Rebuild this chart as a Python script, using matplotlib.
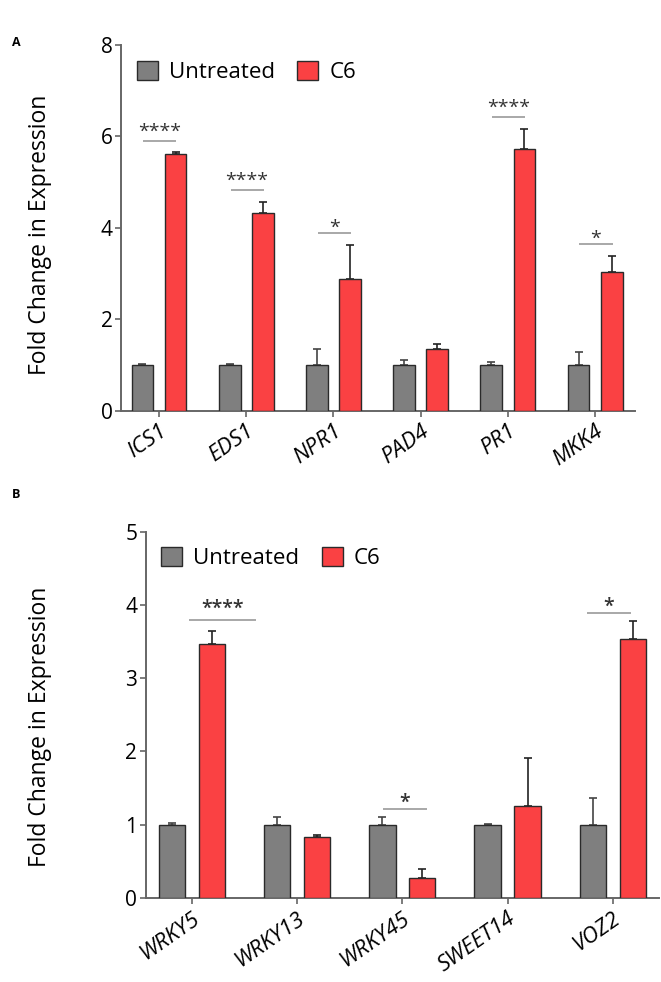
import matplotlib
matplotlib.use("Agg")
import matplotlib.pyplot as plt
import numpy as np
from matplotlib.patches import Patch

plt.rcParams['font.family'] = ['Open Sans', 'DejaVu Sans']

# ---------------- data ----------------
genes_A = ['ICS1', 'EDS1', 'NPR1', 'PAD4', 'PR1', 'MKK4']
untreated_A = [1.0, 1.0, 1.0, 1.0, 1.0, 1.0]
untreated_A_err = [0.035, 0.02, 0.35, 0.12, 0.08, 0.29]
c6_A = [5.62, 4.32, 2.89, 1.36, 5.73, 3.03]
c6_A_err = [0.03, 0.24, 0.74, 0.11, 0.43, 0.36]
sig_A = ['****', '****', '*', '', '****', '*']

genes_B = ['WRKY5', 'WRKY13', 'WRKY45', 'SWEET14', 'VOZ2']
untreated_B = [1.0, 1.0, 1.0, 1.0, 1.0]
untreated_B_err = [0.02, 0.105, 0.11, 0.005, 0.36]
c6_B = [3.47, 0.836, 0.28, 1.26, 3.53]
c6_B_err = [0.17, 0.02, 0.11, 0.65, 0.25]
sig_B = ['****', '', '*', '', '*']

# significance bar spans (relative to group centre) and gap above error bars
span_A = [(-0.18, 0.20)] * 6
span_B = [(-0.03, 0.61), (0, 0), (-0.18, 0.23), (0, 0), (-0.24, 0.17)]
pad_A = 0.26
pad_B = [0.15, 0, 0.10, 0, 0.11]

GRAY = '#7f7f7f'
RED = '#fa4143'
EDGE = '#2a2a2a'
SPINE = '#666666'

fig = plt.figure(figsize=(6.61, 9.82), dpi=100)
axA = fig.add_axes([0.183, 0.5815, 0.778, 0.3727])
axB = fig.add_axes([0.2204, 0.0855, 0.7766, 0.3731])


def draw(ax, genes, u, ue, c, ce, sig, spans, pads, ymax, yticks, xlim,
         star_offsets, star_weight, ylab_pos):
    x = np.arange(len(genes))
    w = 0.25
    off = 0.19
    ax.bar(x - off, u, w, color=GRAY, edgecolor=EDGE, linewidth=1.0, zorder=3)
    ax.bar(x + off, c, w, color=RED, edgecolor=EDGE, linewidth=1.0, zorder=3)
    ax.errorbar(x - off, u, yerr=[np.zeros(len(u)), ue], fmt='none', ecolor='#444444',
                elinewidth=1.2, capsize=3, capthick=1.2, zorder=2)
    ax.errorbar(x + off, c, yerr=[np.zeros(len(c)), ce], fmt='none', ecolor='#222222',
                elinewidth=1.2, capsize=3, capthick=1.2, zorder=2)
    for i, s in enumerate(sig):
        if not s:
            continue
        top = max(u[i] + ue[i], c[i] + ce[i])
        p = pads[i] if isinstance(pads, list) else pads
        ly = top + p
        x0, x1 = x[i] + spans[i][0], x[i] + spans[i][1]
        ax.plot([x0, x1], [ly, ly], color='#999999', lw=1.2, solid_capstyle='butt', zorder=4)
        ax.annotate(s, ((x0 + x1) / 2, ly),
                    xytext=(0, star_offsets[0] if len(s) > 1 else star_offsets[1]),
                    textcoords='offset points', ha='center', va='baseline',
                    fontsize=14, color='#333333', fontweight=star_weight)
    ax.set_ylim(0, ymax)
    ax.set_xlim(*xlim)
    ax.set_yticks(yticks)
    ax.set_xticks(x)
    ax.set_xticklabels(genes, rotation=35, ha='right', rotation_mode='anchor',
                       fontstyle='italic', fontsize=16)
    for sp in ['top', 'right']:
        ax.spines[sp].set_visible(False)
    for sp in ['left', 'bottom']:
        ax.spines[sp].set_color(SPINE)
        ax.spines[sp].set_linewidth(1.4)
    ax.tick_params(axis='both', colors=SPINE, width=1.2, length=4, labelcolor='black',
                   labelsize=15, pad=2)
    ax.tick_params(axis='x', labelsize=16, pad=3)
    ax.set_ylabel('Fold Change in Expression', fontsize=16.5)
    ax.yaxis.set_label_coords(*ylab_pos)
    handles = [Patch(facecolor=GRAY, edgecolor=EDGE, linewidth=1.0, label='Untreated'),
               Patch(facecolor=RED, edgecolor=EDGE, linewidth=1.0, label='C6')]
    return handles


hA = draw(axA, genes_A, untreated_A, untreated_A_err, c6_A, c6_A_err, sig_A,
          span_A, pad_A, 8, [0, 2, 4, 6, 8], (-0.436, 5.46), (3, 0), 'normal',
          (-0.134, 0.48))
hB = draw(axB, genes_B, untreated_B, untreated_B_err, c6_B, c6_B_err, sig_B,
          span_B, pad_B, 5, [0, 1, 2, 3, 4, 5], (-0.44, 4.44), (5, 1), 'semibold',
          (-0.182, 0.467))

for ax, h in ((axA, hA), (axB, hB)):
    ax.legend(handles=h, loc='upper left', bbox_to_anchor=(0.0, 1.0), ncol=2, frameon=False,
              fontsize=16, handlelength=0.95, handleheight=0.95, handletextpad=0.5,
              columnspacing=1.0, borderaxespad=0.3)

fig.text(12 / 661, 1 - 42 / 982, 'A', fontsize=9, fontweight='bold', va='center')
fig.text(12 / 661, 1 - 494 / 982, 'B', fontsize=9, fontweight='bold', va='center')

fig.savefig('out.png', dpi=100)
